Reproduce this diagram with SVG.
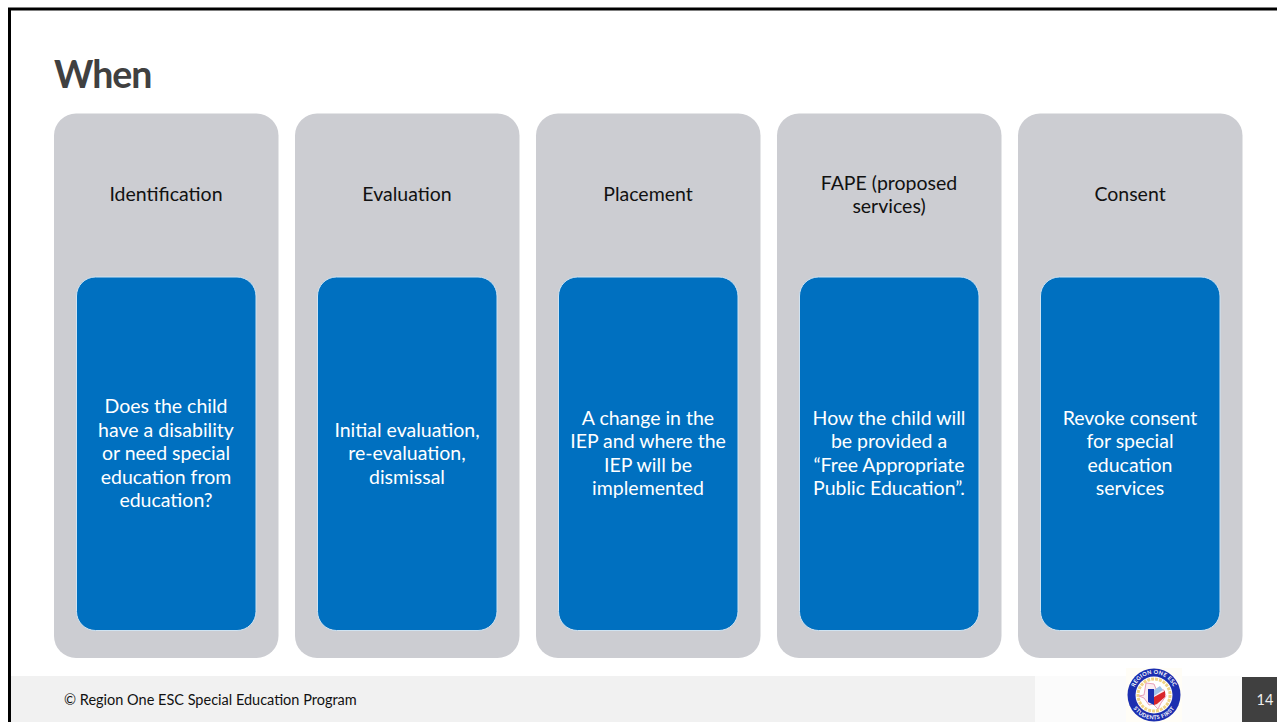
<svg xmlns="http://www.w3.org/2000/svg" width="1277" height="722" viewBox="0 0 1277 722">
<style>
text{font-family:"Lato","Open Sans","Liberation Sans",sans-serif}
.o{fill:#cccdd2}
.i{fill:#0070c0;stroke:#cfe3f2;stroke-width:1}
.h{font-size:19.5px;fill:#111;text-anchor:middle}
.b{font-size:19.5px;fill:#fff;text-anchor:middle}
.l{font-size:5.500px;font-weight:700;fill:#fff;letter-spacing:.3px}
</style>
<defs>
<path id="logo-top" d="M1133 695a21 21 0 0 1 42 0"/>
<path id="logo-bottom" d="M1129.500 695a24.500 24.500 0 0 0 49 0"/>
</defs>
<rect width="1277" height="722" fill="#fff"/>
<path d="M9.500 722V9H1277" fill="none" stroke="#000" stroke-width="3"/>
<text x="54" y="88" font-size="37.500" font-weight="700" fill="#404040" letter-spacing="-1">When</text>
<g id="footer">
<rect x="11" y="676" width="1024" height="46" fill="#f1f1f1"/>
<rect x="1035" y="676" width="207" height="46" fill="#fbfbfb"/>
<rect x="1242" y="677" width="35" height="45" fill="#404040"/>
<text x="64" y="705" font-size="14.500" fill="#111">© Region One ESC Special Education Program</text>
<text x="1265" y="705" font-size="14.500" fill="#eee" text-anchor="middle">14</text>
</g>
<g id="logo">
<rect x="1126" y="668" width="56" height="54" fill="#fffdf6"/>
<circle cx="1154" cy="695" r="26.500" fill="#1c2fb0"/>
<circle cx="1154" cy="695" r="18.500" fill="#fff"/>
<circle cx="1154" cy="695" r="16" fill="none" stroke="#f0d486" stroke-width="3" stroke-dasharray="3 1"/>
<path d="M1146 683l8 1 2 5 8 1 2 6-5 7-3 6-5-5-4 1-5-7-5-2 5-1z" fill="#fbeef2" stroke="#e8a0b8"/>
<path d="M1148 689h6v16l-6-3z" fill="#1c2fb0"/>
<path d="M1154 697l11-6v6l-8 7-3 1z" fill="#d9252b"/>
<path d="M1154 690l6-4 3 4-9 6z" fill="#9ec3ea"/>
<text class="l" text-anchor="middle"><textPath href="#logo-top" startOffset="50%">REGION ONE ESC</textPath></text>
<text class="l" text-anchor="middle"><textPath href="#logo-bottom" startOffset="50%">STUDENTS FIRST</textPath></text>
</g>
<g id="card-identification">
<rect class="o" x="54" y="113.500" width="224.500" height="544.500" rx="22"/>
<text class="h" x="166" y="201">Identification</text>
<rect class="i" x="76.500" y="277" width="179.500" height="353.500" rx="19"/>
<text class="b"><tspan x="166" y="413">Does the child</tspan><tspan x="166" y="436.500">have a disability</tspan><tspan x="166" y="460">or need special</tspan><tspan x="166" y="483.500">education from</tspan><tspan x="166" y="507">education?</tspan></text>
</g>
<g id="card-evaluation">
<rect class="o" x="295" y="113.500" width="224.500" height="544.500" rx="22"/>
<text class="h" x="407" y="201">Evaluation</text>
<rect class="i" x="317.500" y="277" width="179.500" height="353.500" rx="19"/>
<text class="b"><tspan x="407" y="436.500">Initial evaluation,</tspan><tspan x="407" y="460">re-evaluation,</tspan><tspan x="407" y="483.500">dismissal</tspan></text>
</g>
<g id="card-placement">
<rect class="o" x="536" y="113.500" width="224.500" height="544.500" rx="22"/>
<text class="h" x="648" y="201">Placement</text>
<rect class="i" x="558.500" y="277" width="179.500" height="353.500" rx="19"/>
<text class="b"><tspan x="648" y="425">A change in the</tspan><tspan x="648" y="448">IEP and where the</tspan><tspan x="648" y="472">IEP will be</tspan><tspan x="648" y="495">implemented</tspan></text>
</g>
<g id="card-fape">
<rect class="o" x="777" y="113.500" width="224.500" height="544.500" rx="22"/>
<text class="h"><tspan x="889" y="190">FAPE (proposed</tspan><tspan x="889" y="213">services)</tspan></text>
<rect class="i" x="799.500" y="277" width="179.500" height="353.500" rx="19"/>
<text class="b"><tspan x="889" y="425">How the child will</tspan><tspan x="889" y="448">be provided a</tspan><tspan x="889" y="472">“Free Appropriate</tspan><tspan x="889" y="495">Public Education”.</tspan></text>
</g>
<g id="card-consent">
<rect class="o" x="1018" y="113.500" width="224.500" height="544.500" rx="22"/>
<text class="h" x="1130" y="201">Consent</text>
<rect class="i" x="1040.500" y="277" width="179.500" height="353.500" rx="19"/>
<text class="b"><tspan x="1130" y="425">Revoke consent</tspan><tspan x="1130" y="448">for special</tspan><tspan x="1130" y="472">education</tspan><tspan x="1130" y="495">services</tspan></text>
</g>
<g id="connectors"/>
</svg>
